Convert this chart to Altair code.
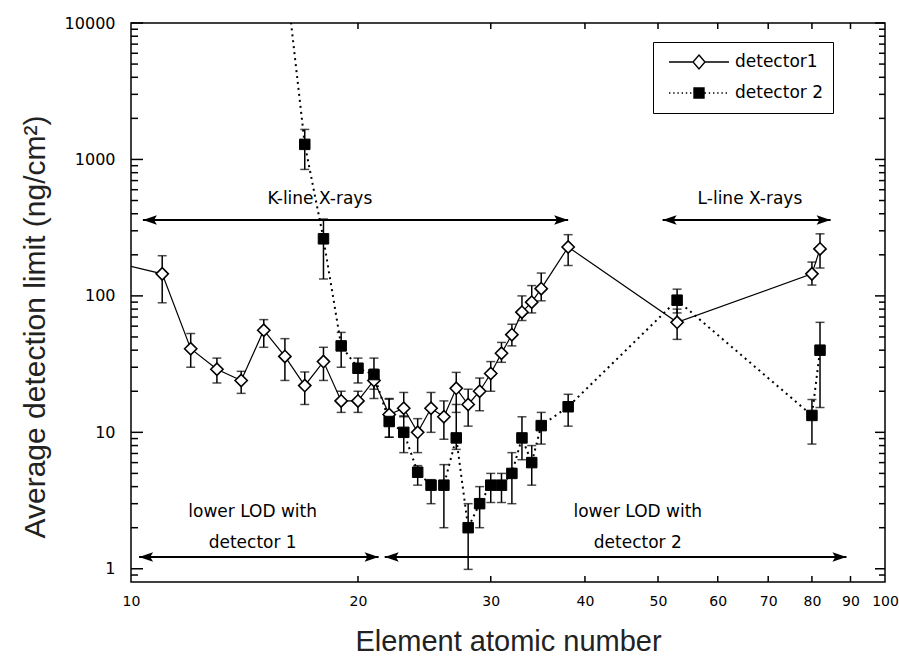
import altair as alt
import pandas as pd

# ---------------- data ----------------
series_names = ["detector1", "detector 2"]

z1 = [9, 11, 12, 13, 14, 15, 16, 17, 18, 19, 20, 21, 22, 23, 24, 25, 26, 27, 28, 29, 30, 31, 32, 33, 34, 35, 38, 53, 80, 82]
v1 = [190, 145, 41, 29, 24, 56, 36, 22, 33, 17, 17, 24, 13.5, 15, 10, 15, 13, 21, 16, 20, 27, 38, 52, 76, 90, 113, 228, 64, 145, 221]
lo1 = [190, 89, 30, 23, 19.3, 42, 24, 16, 24, 14, 14, 17.7, 9.2, 13, 7.1, 10, 8.9, 14, 11.1, 14.4, 20, 32.6, 43, 66, 75, 92, 167, 48, 120, 160]
hi1 = [190, 197, 53, 35, 28, 67, 48.6, 27.7, 42, 20, 20, 29, 17.5, 19.6, 12.6, 19.6, 17, 27.5, 20.7, 25, 33, 45.6, 62, 100, 119, 147, 281, 80, 177, 285]

z2 = [16, 17, 18, 19, 20, 21, 22, 23, 24, 25, 26, 27, 28, 29, 30, 31, 32, 33, 34, 35, 38, 53, 80, 82]
v2 = [25000, 1290, 262, 43, 29.5, 26.5, 12, 10, 5.1, 4.1, 4.1, 9.1, 2.0, 3.0, 4.1, 4.1, 5.0, 9.1, 6.0, 11.2, 15.4, 93, 13.3, 40]
lo2 = [25000, 845, 133, 30, 23, 20.7, 9.2, 7.1, 4.1, 3.0, 2.0, 7.5, 0.99, 2.0, 3.06, 3.06, 3.0, 6.3, 4.1, 8.2, 11.1, 75, 8.2, 15.2]
hi2 = [25000, 1660, 366, 54, 35, 35, 17.7, 13.2, 5.7, 4.5, 5.8, 16, 3.0, 4.0, 5.0, 5.0, 7.1, 13.0, 8.0, 14, 19, 112, 17.4, 64]

x_tick_values = [10, 20, 30, 40, 50, 60, 70, 80, 90, 100]
y_tick_values = [1, 10, 100, 1000, 10000]
y_minor_values = [0.9] + [m * d for d in [1, 10, 100, 1000] for m in range(2, 10)]

# annotation arrows (x in atomic number, y in ng/cm2)
arrow_x1 = [10.37, 50.7, 10.25, 21.7]
arrow_x2 = [38.0, 84.7, 21.3, 88.9]
arrow_y = [360, 360, 1.22, 1.22]

note_text = ["K-line X-rays", "L-line X-rays", "lower LOD with", "detector 1", "lower LOD with", "detector 2"]
note_x = [17.8, 66.2, 14.5, 14.5, 47.0, 47.0]
note_y = [510, 510, 2.6, 1.556, 2.6, 1.556]

# ---------------- tables ----------------
d1 = pd.DataFrame({"Z": z1, "value": v1, "lo": lo1, "hi": hi1, "series": series_names[0]})
d2 = pd.DataFrame({"Z": z2, "value": v2, "lo": lo2, "hi": hi2, "series": series_names[1]})
df = pd.concat([d1, d2], ignore_index=True)
arrows = pd.DataFrame({"x1": arrow_x1, "x2": arrow_x2, "y": arrow_y})
notes = pd.DataFrame({"text": note_text, "x": note_x, "y": note_y})
xt = pd.DataFrame({"v": x_tick_values[1:-1]})
yt = pd.DataFrame({"v": y_tick_values})
ym = pd.DataFrame({"v": y_minor_values})

W, H = 754, 559
LABEL_FONT = "DejaVu Sans"
TITLE_FONT = "Liberation Sans"

xscale = alt.Scale(type="log", domain=[10, 100])
yscale = alt.Scale(type="log", domain=[0.8, 10000])

xaxis = alt.Axis(
    title="Element atomic number", values=x_tick_values, format="d",
    grid=False, domain=False, ticks=False, tickSize=0, labelPadding=12,
    labelFont=LABEL_FONT, labelFontSize=14, labelColor="black",
    labelOverlap=False, labelFlush=False,
    titleFont=TITLE_FONT, titleFontSize=29, titleFontWeight="normal", titleColor="#222",
    titleX=W / 2, titleY=74, titleAlign="center", titleBaseline="bottom",
)
yaxis = alt.Axis(
    title="Average detection limit (ng/cm²)", values=y_tick_values, format="d",
    grid=False, domain=False, ticks=False, tickSize=0, labelPadding=16,
    labelFont=LABEL_FONT, labelFontSize=16, labelColor="black",
    labelOverlap=False, labelFlush=False,
    titleFont=TITLE_FONT, titleFontSize=30, titleFontWeight="normal", titleColor="#222",
    titleX=-87, titleY=303.5, titleAngle=270, titleAlign="center", titleBaseline="alphabetic",
)


def X(field):
    return alt.X(field, type="quantitative", scale=xscale, axis=xaxis)


def Y(field):
    return alt.Y(field, type="quantitative", scale=yscale, axis=yaxis)


# ---------------- inward ticks ----------------
tick_style = dict(color="black", strokeWidth=1.5)
xt_bottom = alt.Chart(xt).mark_rule(**tick_style).encode(x=X("v"), y=alt.value(H), y2=alt.value(H - 6))
xt_top = alt.Chart(xt).mark_rule(**tick_style).encode(x=X("v"), y=alt.value(0), y2=alt.value(6))
yt_left = alt.Chart(yt).mark_rule(**tick_style).encode(y=Y("v"), x=alt.value(0), x2=alt.value(12))
yt_right = alt.Chart(yt).mark_rule(**tick_style).encode(y=Y("v"), x=alt.value(W), x2=alt.value(W - 10))
ym_left = alt.Chart(ym).mark_rule(**tick_style).encode(y=Y("v"), x=alt.value(0), x2=alt.value(7))
ym_right = alt.Chart(ym).mark_rule(**tick_style).encode(y=Y("v"), x=alt.value(W), x2=alt.value(W - 6))

# ---------------- data marks ----------------
base1 = alt.Chart(d1)
base2 = alt.Chart(d2)

line1 = base1.mark_line(color="black", strokeWidth=1.2, clip=True).encode(x=X("Z"), y=Y("value"))
line2 = base2.mark_line(color="black", strokeWidth=2, strokeDash=[2, 4], clip=True).encode(x=X("Z"), y=Y("value"))

err = alt.Chart(df).mark_rule(color="black", strokeWidth=1.5, clip=True).encode(x=X("Z"), y=Y("lo"), y2="hi")
cap_lo = alt.Chart(df).mark_tick(color="black", orient="horizontal", size=9, thickness=1.5, clip=True).encode(x=X("Z"), y=Y("lo"))
cap_hi = alt.Chart(df).mark_tick(color="black", orient="horizontal", size=9, thickness=1.5, clip=True).encode(x=X("Z"), y=Y("hi"))

pts1 = base1.mark_point(shape="diamond", size=150, filled=True, fill="white", stroke="black",
                        strokeWidth=1.6, opacity=1, clip=True).encode(x=X("Z"), y=Y("value"))
pts2 = base2.mark_point(shape="square", size=110, filled=True, fill="black", stroke="black",
                        strokeWidth=1, opacity=1, clip=True).encode(x=X("Z"), y=Y("value"))

# ---------------- annotations ----------------
arrow_lines = alt.Chart(arrows).mark_rule(color="black", strokeWidth=1.8).encode(x=X("x1"), x2="x2", y=Y("y"))
head_right = alt.Chart(arrows).mark_point(shape="M0,0L-1,-0.34L-0.8,0L-1,0.34Z", size=784, filled=True,
                                          color="black", opacity=1).encode(x=X("x2"), y=Y("y"))
head_left = alt.Chart(arrows).mark_point(shape="M0,0L1,-0.34L0.8,0L1,0.34Z", size=784, filled=True,
                                         color="black", opacity=1).encode(x=X("x1"), y=Y("y"))
note_marks = alt.Chart(notes).mark_text(font=LABEL_FONT, fontSize=17, color="black", align="center",
                                        baseline="middle").encode(x=X("x"), y=Y("y"), text="text:N")


# ---------------- legend (Vega-Lite legend with line+marker symbols) ----------------
def dotted(a, b, dot=0.04, gap=0.08):
    parts = []
    p = a
    while p < b - 1e-9:
        q = min(p + dot, b)
        parts.append(f"M{p:.3f},0H{q:.3f}")
        p = q + gap
    return "".join(parts)


sym1 = "M-0.857,0H-0.171M0.171,0H0.857M0,-0.2L0.171,0L0,0.2L-0.171,0Z"
sym2 = dotted(-0.857, -0.16) + dotted(0.16, 0.857) + "M-0.143,-0.143H0.143V0.143H-0.143Z"

legend_def = alt.Legend(
    title=None, orient="none", legendX=522, legendY=19, strokeColor="black", padding=10,
    symbolSize=70 * 70, clipHeight=20, rowPadding=11, labelOffset=0,
    labelFont=LABEL_FONT, labelFontSize=17, labelColor="black", labelLimit=200,
    symbolStrokeColor="black", symbolStrokeWidth=1.4, symbolOpacity=1,
)
legend_layer = alt.Chart(df).transform_filter("false").mark_point(
    filled=True, strokeWidth=1.4, opacity=1
).encode(
    x=X("Z"), y=Y("value"),
    shape=alt.Shape("series:N", scale=alt.Scale(domain=series_names, range=[sym1, sym2]), legend=legend_def),
    fill=alt.Fill("series:N", scale=alt.Scale(domain=series_names, range=["white", "black"]), legend=legend_def),
    stroke=alt.Stroke("series:N", scale=alt.Scale(domain=series_names, range=["black", "black"]), legend=legend_def),
)

chart = alt.layer(
    xt_bottom, xt_top, yt_left, yt_right, ym_left, ym_right,
    arrow_lines, head_left, head_right, note_marks,
    line1, line2, err, cap_lo, cap_hi, pts1, pts2,
    legend_layer,
).properties(
    width=W, height=H,
    padding={"left": 131, "top": 23, "right": 14, "bottom": 75},
    autosize=alt.AutoSizeParams(type="none"),
    background="white",
).configure_view(stroke="black", strokeWidth=1.5)

chart.save("out.html", embed_options={"renderer": "svg", "actions": False})
